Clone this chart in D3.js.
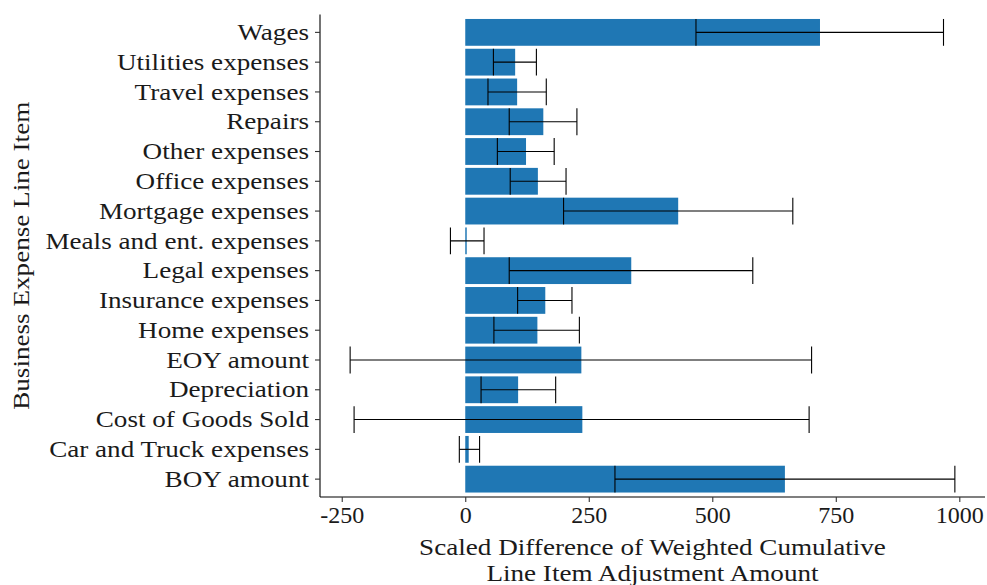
<!DOCTYPE html>
<html>
<head>
<meta charset="utf-8">
<script src="https://cdn.jsdelivr.net/npm/d3@7"></script>
<style>
  html, body { margin: 0; padding: 0; background: #fff; }
  svg { display: block; }
  text { font-family: "Liberation Serif", "DejaVu Serif", serif; fill: #1a1a1a; }
</style>
</head>
<body>
<svg id="chart" width="987" height="585"></svg>
<script>
// Line items, top to bottom
const categories = [
  "Wages", "Utilities expenses", "Travel expenses", "Repairs", "Other expenses",
  "Office expenses", "Mortgage expenses", "Meals and ent. expenses", "Legal expenses",
  "Insurance expenses", "Home expenses", "EOY amount", "Depreciation",
  "Cost of Goods Sold", "Car and Truck expenses", "BOY amount"
];
// Scaled difference (bar length)
const values = [718, 101, 105, 158, 123, 147, 431, 3, 336, 162, 146, 235, 107, 237, 7, 647];
// Error bar bounds
const lower = [467, 57, 46, 89, 65, 91, 199, -30, 89, 106, 58, -233, 32, -225, -12, 303];
const upper = [968, 144, 164, 226, 180, 204, 663, 38, 582, 216, 231, 701, 183, 696, 29, 991];
const xTicks = [-250, 0, 250, 500, 750, 1000];

const svg = d3.select("#chart");
const margin = { left: 320, right: 2, top: 14.5, bottom: 88 };
const W = 987, H = 585;
const fontSize = 24;
const stretch = 1.13;   // widen the serif face a little for word labels

const x = d3.scaleLinear().domain([-294, 1052]).range([margin.left, W - margin.right]);
const y = d3.scaleBand().domain(categories)
  .range([margin.top, H - margin.bottom])
  .paddingInner(0.1).paddingOuter(0.15);

const g = svg.append("g");

// bars
g.selectAll("rect.bar").data(categories).join("rect")
  .attr("class", "bar")
  .attr("x", (d, i) => x(Math.min(0, values[i])))
  .attr("width", (d, i) => Math.abs(x(values[i]) - x(0)))
  .attr("y", d => y(d))
  .attr("height", y.bandwidth())
  .attr("fill", "#1f77b4");

// error bars
const eb = g.selectAll("g.err").data(categories).join("g").attr("class", "err")
  .attr("stroke", "#000").attr("stroke-width", 1.1).attr("fill", "none");
eb.append("line")
  .attr("x1", (d, i) => x(lower[i])).attr("x2", (d, i) => x(upper[i]))
  .attr("y1", d => y(d) + y.bandwidth() / 2).attr("y2", d => y(d) + y.bandwidth() / 2);
eb.append("line")
  .attr("x1", (d, i) => x(lower[i])).attr("x2", (d, i) => x(lower[i]))
  .attr("y1", d => y(d)).attr("y2", d => y(d) + y.bandwidth());
eb.append("line")
  .attr("x1", (d, i) => x(upper[i])).attr("x2", (d, i) => x(upper[i]))
  .attr("y1", d => y(d)).attr("y2", d => y(d) + y.bandwidth());

// axes
const xAxis = svg.append("g")
  .attr("transform", `translate(0,${H - margin.bottom})`)
  .call(d3.axisBottom(x).tickValues(xTicks).tickSize(5).tickPadding(4).tickFormat(d => String(d)));
const yAxis = svg.append("g")
  .attr("transform", `translate(${margin.left},0)`)
  .call(d3.axisLeft(y).tickSize(5).tickPadding(6));
[xAxis, yAxis].forEach(a => {
  a.select(".domain").attr("stroke", "#000").attr("stroke-width", 1.1);
  a.selectAll(".tick line").attr("stroke", "#333").attr("stroke-width", 1.1);
  a.selectAll(".tick text").attr("font-size", fontSize)
    .attr("font-family", "'Liberation Serif', serif").attr("fill", "#1a1a1a");
});
// flatten the domain ends (no outer ticks)
xAxis.select(".domain").attr("d", `M${x.range()[0]},0H${x.range()[1]}`);
yAxis.select(".domain").attr("d", `M0,${y.range()[0]}V${y.range()[1]}`);

// axis titles
const cx = (x.range()[0] + x.range()[1]) / 2;
const titles = [];
titles.push(svg.append("text").attr("x", cx).attr("y", 555).attr("text-anchor", "middle")
  .attr("font-size", fontSize).text("Scaled Difference of Weighted Cumulative"));
titles.push(svg.append("text").attr("x", cx).attr("y", 581).attr("text-anchor", "middle")
  .attr("font-size", fontSize).text("Line Item Adjustment Amount"));
const cy = (y.range()[0] + y.range()[1]) / 2;
titles.push(svg.append("text").attr("transform", `translate(29,${cy}) rotate(-90)`)
  .attr("text-anchor", "middle").attr("font-size", fontSize)
  .text("Business Expense Line Item"));

// widen word labels
function widen(sel) {
  sel.each(function () {
    const len = this.getComputedTextLength();
    d3.select(this).attr("textLength", len * stretch).attr("lengthAdjust", "spacingAndGlyphs");
  });
}
widen(yAxis.selectAll(".tick text"));
titles.forEach(widen);
</script>
</body>
</html>
